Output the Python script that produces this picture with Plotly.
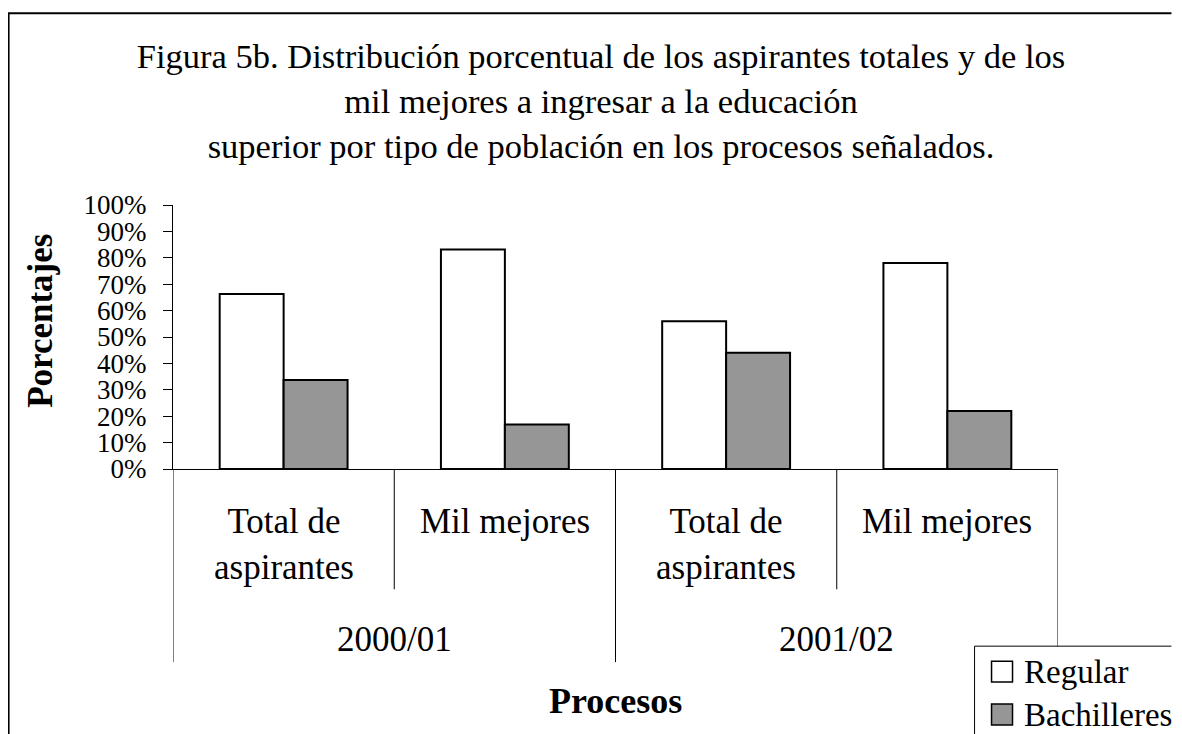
import plotly.graph_objects as go

# --- data ---
periods = ["2000/01", "2001/02"]
groups = ["Total de<br>aspirantes", "Mil mejores"]
series_names = ["Regular", "Bachilleres"]
regular = [66.3, 83.1, 56.0, 78.0]       # % Regular
bachilleres = [33.7, 16.9, 44.0, 22.0]   # % Bachilleres

title_text = ("Figura 5b. Distribución porcentual de los aspirantes totales y de los<br>"
              "mil mejores a ingresar a la educación<br>"
              "superior por tipo de población en los procesos señalados.")

FONT = "Liberation Serif, Times New Roman, serif"
COLORS = ["white", "#969696"]

# the page body has an 8px margin, so the figure is drawn smaller
# and every position below is given in page pixels
OFF = 8
W, H = 1182 - OFF, 734 - OFF
PX0, PX1 = 173, 1058.5      # plot area left/right (page px)
PY0, PY1 = 205, 469.5       # plot area top/bottom (page px)
PW, PH = PX1 - PX0, PY1 - PY0
RIGHT_EDGE = 1172           # last visible page column
BOTTOM_EDGE = 1000


def xp(px):
    return (px - PX0) / PW


def yp(py):
    return (PY1 - py) / PH


def open_box(left, top):
    """Top and left edges only: the box runs off the right/bottom of the page."""
    return (f"M {xp(RIGHT_EDGE)},{yp(top)} L {xp(left)},{yp(top)} "
            f"L {xp(left)},{yp(BOTTOM_EDGE)}")


# one category per bar group: period x group
cats = [f"{p} {g}" for p in periods for g in groups]

fig = go.Figure()
for name, vals, col in zip(series_names, [regular, bachilleres], COLORS):
    fig.add_trace(go.Bar(
        x=cats, y=vals, name=name, showlegend=False,
        marker=dict(color=col, line=dict(color="black", width=2)),
    ))

shapes = []
# outer chart border
shapes.append(dict(type="path", xref="paper", yref="paper",
                   path=open_box(OFF + 0.5, 13),
                   line=dict(color="black", width=2), layer="below"))
# category dividers: long at period boundaries, short between groups
for i in range(len(cats) + 1):
    long_line = i % len(groups) == 0
    shapes.append(dict(type="line", xref="x", yref="paper",
                       x0=i - 0.5, x1=i - 0.5, y0=0,
                       y1=yp(663) if long_line else yp(590),
                       line=dict(color="black", width=1)))

annotations = []
for j, c in enumerate(cats):
    annotations.append(dict(x=c, xref="x", y=yp(501), yref="paper",
                            text=groups[j % len(groups)], showarrow=False,
                            yanchor="top", font=dict(size=35)))
for k, p in enumerate(periods):
    annotations.append(dict(x=k * len(groups) + (len(groups) - 1) / 2, xref="x",
                            y=yp(619), yref="paper", text=p, showarrow=False,
                            yanchor="top", font=dict(size=35)))
annotations.append(dict(x=xp(616), xref="paper", y=yp(680), yref="paper",
                        text="<b>Procesos</b>", showarrow=False,
                        yanchor="top", font=dict(size=36)))
annotations.append(dict(x=xp(41), xref="paper", y=yp(321), yref="paper",
                        text="<b>Porcentajes</b>", showarrow=False, textangle=-90,
                        xanchor="center", yanchor="middle", font=dict(size=35)))

# legend box (cut by the page edge like the original)
shapes.append(dict(type="rect", xref="paper", yref="paper",
                   x0=xp(975), x1=xp(RIGHT_EDGE), y0=yp(BOTTOM_EDGE), y1=yp(647),
                   fillcolor="white", line=dict(width=0)))
shapes.append(dict(type="path", xref="paper", yref="paper",
                   path=open_box(975, 647), line=dict(color="black", width=1)))
for n, (name, col) in enumerate(zip(series_names, COLORS)):
    top = 662 + n * 43
    shapes.append(dict(type="rect", xref="paper", yref="paper",
                       x0=xp(992), x1=xp(1013), y0=yp(top + 21), y1=yp(top),
                       fillcolor=col, line=dict(color="black", width=1.5)))
    annotations.append(dict(x=xp(1022), xref="paper", y=yp(top + 10.5), yref="paper",
                            text=name, showarrow=False, xanchor="left",
                            yanchor="middle", font=dict(size=33)))

fig.update_layout(
    width=W, height=H,
    margin=dict(l=PX0 - OFF, r=W - (PX1 - OFF), t=PY0 - OFF, b=H - (PY1 - OFF)),
    paper_bgcolor="white", plot_bgcolor="white",
    font=dict(family=FONT, color="black"),
    title=dict(text=title_text, x=(601 - OFF) / W, xanchor="center",
               y=1 - 60 / H, yanchor="top", yref="container",
               font=dict(size=34.5, color="black")),
    barmode="group", bargap=0.422, bargroupgap=0,
    xaxis=dict(range=[-0.5, len(cats) - 0.5], showticklabels=False, ticks="",
               showline=True, linecolor="black", linewidth=1,
               showgrid=False, zeroline=False),
    yaxis=dict(range=[0, 100], tick0=0, dtick=10, ticksuffix="%",
               ticks="outside", ticklen=9, tickwidth=1, tickcolor="black",
               ticklabelstandoff=11,
               showline=True, linecolor="black", linewidth=1,
               showgrid=False, zeroline=False,
               tickfont=dict(size=27, family=FONT, color="black")),
    shapes=shapes,
    annotations=annotations,
    showlegend=False,
)

fig.write_html("out.html")
